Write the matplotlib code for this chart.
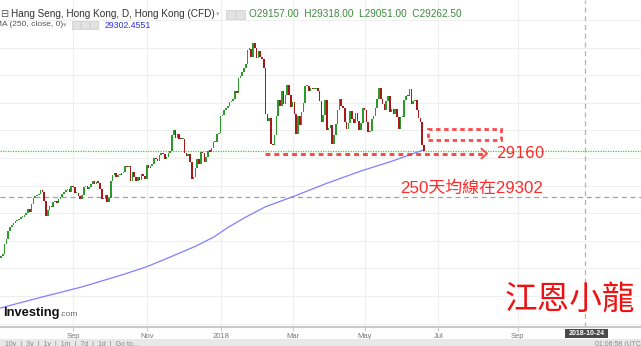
import matplotlib.pyplot as plt
import matplotlib.patches as patches
import numpy as np

plt.rcParams['font.family'] = ['Liberation Sans', 'Noto Sans CJK TC', 'DejaVu Sans']

# daily closes, Jul 2017 - Jun 2018
jul = [25380, 25450, 25520, 25900, 26080, 26350, 26500, 26560, 26640, 26720, 26760, 26800, 26850, 26880, 26920, 27000, 27150, 27050, 27323]
aug = [27540, 27607, 27650, 27700, 27854, 27757, 27444, 26883, 27100, 27250, 27209, 27409, 27450, 27380, 27520, 27600, 27700, 27760, 27848, 27864, 27765, 27970]
sep = [27953, 27740, 27741, 27613, 27522, 27668, 27955, 27972, 27894, 27950, 28050, 28160, 28051, 28127, 28110, 27880, 27500, 27513, 27642, 27421, 27554]
oct_ = [28173, 28380, 28458, 28326, 28389, 28389, 28459, 28476, 28692, 28679, 28712, 28160, 28487, 28305, 28155, 28302, 28202, 28438, 28350, 28245]
nov = [28750, 28650, 28700, 28800, 29000, 28950, 28900, 29121, 29182, 29152, 28952, 29018, 29199, 29261, 29818, 30004, 29707, 29866, 29686, 29680, 29682, 29177]
dec = [29074, 29139, 28843, 28224, 28304, 28640, 28965, 28793, 29222, 29166, 28848, 29050, 29253, 29234, 29367, 29578, 29597, 29864, 29919]
jan = [30515, 30560, 30736, 30815, 30899, 31011, 31074, 31121, 31412, 31339, 31905, 31983, 32122, 32255, 32393, 32930, 32959, 32655, 33154, 32967, 32607, 32887]
feb = [32642, 32601, 32245, 30595, 30323, 30451, 29507, 29459, 29840, 30515, 31115, 30873, 31431, 30965, 31267, 31650, 31268, 30845]
mar = [31044, 30583, 29886, 30511, 30197, 30655, 30996, 31594, 31601, 31435, 31541, 31502, 31513, 31549, 31414, 31071, 30309, 30548, 31116, 30022, 30093]
apr = [30180, 29519, 29844, 30229, 30728, 31146, 30897, 30808, 30315, 30063, 30284, 30708, 30418, 30254, 30636, 30328, 30007, 30280, 30808]
may = [30724, 30313, 29927, 29994, 30402, 30536, 30809, 31122, 31541, 31152, 30943, 30726, 31047, 31234, 30665, 30760, 30588, 30792, 30493, 30056, 30469]
jun = [30492, 31093, 31260, 31259, 31512, 30958, 31063, 31103, 30725, 30440, 30309, 29468, 29262]
first_open = 25300

# 250 day moving average (bar index, value)
ma_idx = [0, 23, 46, 68, 82, 96, 109, 119, 128, 137, 148, 164, 182, 201, 219, 236]
ma_val = [23555, 23950, 24330, 24761, 25060, 25440, 25800, 26130, 26520, 26860, 27236, 27620, 28083, 28529, 28902, 29302]

tick_idx = [41, 82, 123, 163, 203, 244, 288]
tick_lbl = ['Sep', 'Nov', '2018', 'Mar', 'May', 'Jul', 'Sep']

closes = np.array(jul + aug + sep + oct_ + nov + dec + jan + feb + mar + apr + may + jun, dtype=float)
opens = np.concatenate([[first_open], closes[:-1]])
idx = np.arange(len(closes))
last_price = 29262.5
support = 29160
cross_price = 27587
cross_idx = 325.4

W, H = 641, 346
fig = plt.figure(figsize=(W / 100, H / 100), dpi=100)
ax = fig.add_axes([0, 19 / H, 1, 327 / H])
ax.set_xlim(0.44, 0.44 + W / 1.8)
ax.set_ylim(22877, 34724)

def px(x, y):
    return x / W, 1 - y / H

# grid
ax.set_yticks(np.arange(23000, 35000, 1000))
ax.set_xticks(tick_idx)
ax.set_xticklabels(tick_lbl)
ax.grid(True, color='#efefef', lw=0.8)
ax.set_axisbelow(True)
ax.tick_params(axis='y', length=0, labelleft=False)
ax.tick_params(axis='x', length=3, color='#c8c8c8', labelsize=5.5, labelcolor='#777777', pad=1.5)
for s in ['top', 'left', 'right']:
    ax.spines[s].set_visible(False)
ax.spines['bottom'].set_color('#c8c8c8')
ax.spines['bottom'].set_linewidth(1.5)

# candles
up = closes >= opens
colors = np.where(up, '#2b9a2b', '#a81818')
body = np.maximum(np.abs(closes - opens), 40)
ax.bar(idx, body, bottom=np.minimum(opens, closes), width=0.8, color=colors, linewidth=0, zorder=3)

# moving average
ax.plot(ma_idx, ma_val, color='#8080ff', lw=0.9, zorder=2)

# last price line and crosshair
ax.axhline(last_price, color='#22e022', lw=0.9, ls=(0, (1, 1)), zorder=2)
ax.axhline(cross_price, color='#a0a0a0', lw=0.9, ls=(0, (4, 3)), zorder=1)
ax.axvline(cross_idx, color='#b0b0b0', lw=0.9, ls=(0, (4, 3)), zorder=1)

# red annotations
red = '#ff2a2a'
dash = (0, (1.6, 1.3))
ax.plot([147.7, 269], [support, support], color=red, lw=2.2, ls=dash, alpha=0.85, zorder=4)
ax.plot([268, 271, 268], [support + 170, support, support - 170], color=red, lw=1.4, alpha=0.85, zorder=4)
rect = patches.Rectangle((238.2, 29652), 40.6, 399, fill=False, edgecolor=red, lw=2.0, ls=dash, alpha=0.85, zorder=4)
ax.add_patch(rect)
ax.text(276.6, support, '29160', color=red, fontsize=11, family='DejaVu Sans', va='center', ha='left', zorder=5)
ax.text(222.7, 27913, '250天均線在29302', color=red, fontsize=12.2, va='center', ha='left', zorder=5)
fig.text(*px(570, 300), '江恩小龍', color='#ee1111', fontsize=23.5, ha='center', va='center')

# header
fig.text(*px(0, 14), '⊟', color='#555555', fontsize=7, family='DejaVu Sans', va='center')
fig.text(*px(11, 14), 'Hang Seng, Hong Kong, D, Hong Kong (CFD)', color='#333333', fontsize=7.2, va='center')
fig.text(*px(216, 14), '▾', color='#aaaaaa', fontsize=5, family='DejaVu Sans', va='center')
for bx in [226, 236]:
    fig.patches.append(patches.Rectangle(px(bx, 19), 9 / W, 9 / H, transform=fig.transFigure,
                                         facecolor='#e2e2e2', edgecolor='#cccccc', lw=0.5))
fig.text(*px(249, 14), 'O29157.00  H29318.00  L29051.00  C29262.50', color='#3a8a3a', fontsize=7.2, va='center')
fig.text(*px(-5, 25), 'MA (250, close, 0)', color='#555555', fontsize=6, va='center')
fig.text(*px(63, 25), '▾', color='#aaaaaa', fontsize=5, family='DejaVu Sans', va='center')
for bx in [72, 81, 90]:
    fig.patches.append(patches.Rectangle(px(bx, 29), 8 / W, 8 / H, transform=fig.transFigure,
                                         facecolor='#e2e2e2', edgecolor='#cccccc', lw=0.5))
fig.text(*px(105, 25), '29302.4551', color='#2f2fe0', fontsize=6.3, va='center')

# logo
fig.text(*px(3, 313), 'Investing', color='#111111', fontsize=9.3, fontweight='bold', va='center')
fig.text(*px(59, 314), '.com', color='#666666', fontsize=6, va='center')

# date box
fig.patches.append(patches.Rectangle(px(565, 338), 43 / W, 9 / H, transform=fig.transFigure,
                                     facecolor='#4a4a4a', edgecolor='none'))
fig.text(*px(586.5, 333.5), '2018-10-24', color='white', fontsize=5, fontweight='bold', ha='center', va='center')

# bottom strip
fig.patches.append(patches.Rectangle((0, 0), 1, 7 / H, transform=fig.transFigure,
                                     facecolor='#e8e8e8', edgecolor='none'))
fig.text(*px(5, 341), '10y  |  3y  |  1y  |  1m  |  7d  |  1d  |  Go to...', color='#888888', fontsize=5, va='top')
fig.text(*px(641, 341), '01:06:58 (UTC', color='#888888', fontsize=5, ha='right', va='top')

fig.savefig('out.png', dpi=100)
